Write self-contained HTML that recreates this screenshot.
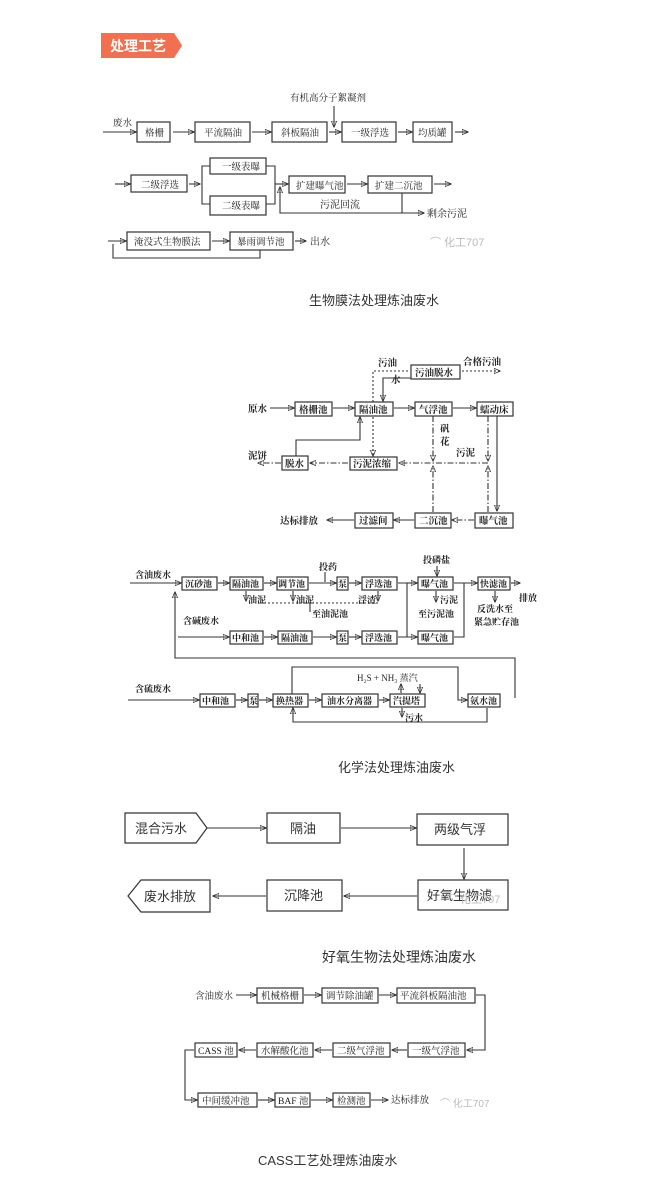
<!DOCTYPE html>
<html><head><meta charset="utf-8"><style>
html,body{margin:0;padding:0;background:#fff;}
svg{display:block;}
.s{font-family:"Liberation Serif","Noto Serif CJK SC",serif;fill:#222;}
.a{font-family:"Liberation Sans","Noto Sans CJK SC",sans-serif;fill:#333;}
rect,polygon.b{fill:#fff;stroke:#333;stroke-width:1.2;}
line,polyline,path{stroke:#333;stroke-width:1.1;fill:none;}
.d{stroke-dasharray:2 2;}
.dd{stroke-dasharray:6 2 1.5 2;}
</style></head><body>
<svg width="665" height="1200" viewBox="0 0 665 1200" xmlns="http://www.w3.org/2000/svg">
<defs>
<marker id="m" viewBox="0 0 10 10" refX="9" refY="5" markerWidth="6" markerHeight="6" orient="auto"><path d="M0,1 L10,5 L0,9 Z" fill="#222" stroke="none"/></marker>
</defs>
<!-- header -->
<polygon points="101,33 174,33 182,45.5 174,58 101,58" fill="#f26f50" stroke="none"/>
<text x="110" y="51" font-size="14" font-weight="bold" fill="#fff" font-family="'Liberation Sans','Noto Sans CJK SC',sans-serif">处理工艺</text>

<!-- Section 1 -->
<g font-size="9.5" class="s">
<text x="290" y="101" class="s">有机高分子絮凝剂</text>
<line x1="334" y1="106" x2="334" y2="127" marker-end="url(#m)"/>
<text x="113" y="126" class="s">废水</text>
<line x1="103" y1="132" x2="136" y2="132" marker-end="url(#m)"/>
<rect x="137" y="122" width="33" height="20"/><text x="145" y="136" class="s">格栅</text>
<line x1="173" y1="132" x2="194" y2="132" marker-end="url(#m)"/>
<rect x="195" y="122" width="55" height="20"/><text x="204" y="136" class="s">平流隔油</text>
<line x1="252" y1="132" x2="271" y2="132" marker-end="url(#m)"/>
<rect x="272" y="122" width="55" height="20"/><text x="281" y="136" class="s">斜板隔油</text>
<line x1="329" y1="132" x2="341" y2="132" marker-end="url(#m)"/>
<rect x="342" y="122" width="54" height="20"/><text x="351" y="136" class="s">一级浮选</text>
<line x1="398" y1="132" x2="412" y2="132" marker-end="url(#m)"/>
<rect x="413" y="122" width="39" height="20"/><text x="418" y="136" class="s">均质罐</text>
<line x1="455" y1="132" x2="468" y2="132" marker-end="url(#m)"/>

<line x1="115" y1="184" x2="130" y2="184" marker-end="url(#m)"/>
<rect x="131" y="175" width="56" height="17"/><text x="141" y="188" class="s">二级浮选</text>
<line x1="189" y1="184" x2="200" y2="184" marker-end="url(#m)"/>
<polyline points="210,166 202,166 202,204 210,204"/>
<rect x="210" y="158" width="56" height="16"/><text x="222" y="170" class="s">一级表曝</text>
<rect x="210" y="196" width="56" height="19"/><text x="222" y="209" class="s">二级表曝</text>
<polyline points="266,166 275,166 275,204 266,204"/>
<line x1="275" y1="184" x2="288" y2="184" marker-end="url(#m)"/>
<rect x="289" y="176" width="56" height="17"/><text x="296" y="189" class="s">扩建曝气池</text>
<line x1="347" y1="184" x2="367" y2="184" marker-end="url(#m)"/>
<rect x="368" y="176" width="64" height="17"/><text x="375" y="189" class="s">扩建二沉池</text>
<line x1="434" y1="184" x2="451" y2="184" marker-end="url(#m)"/>
<polyline points="402,193 402,213 280,213 280,187" marker-end="url(#m)"/>
<line x1="402" y1="213" x2="424" y2="213" marker-end="url(#m)"/>
<text x="320" y="208" class="s" font-size="10">污泥回流</text>
<text x="427" y="217" class="s" font-size="10">剩余污泥</text>

<line x1="108" y1="241" x2="126" y2="241" marker-end="url(#m)"/>
<rect x="127" y="232" width="83" height="18"/><text x="134" y="245" class="s">淹没式生物膜法</text>
<line x1="212" y1="241" x2="229" y2="241" marker-end="url(#m)"/>
<rect x="230" y="232" width="63" height="18"/><text x="237" y="245" class="s">暴雨调节池</text>
<line x1="295" y1="241" x2="306" y2="241" marker-end="url(#m)"/>
<text x="310" y="245" class="s" font-size="10">出水</text>
<polyline points="260,250 260,258 113,258 113,244"/>
<text x="430" y="246" fill="#bbb" font-size="11" font-family="'Liberation Sans','Noto Sans CJK SC',sans-serif">⌒ 化工707</text>
</g>
<text x="309" y="305" font-size="13" class="a">生物膜法处理炼油废水</text>

<!-- Section 2 -->
<g font-size="9.5" font-weight="bold" class="s">
<text x="378" y="366" class="s">污油</text>
<text x="463" y="365" class="s">合格污油</text>
<rect x="411" y="365" width="49" height="14"/><text x="415" y="376" class="s">污油脱水</text>
<line x1="462" y1="371" x2="500" y2="371" class="d" marker-end="url(#m)"/>
<polyline points="373,402 373,371 410,371" class="d"/>
<text x="391" y="383" class="s">水</text>
<polyline points="411,378 383,378 383,401" marker-end="url(#m)"/>
<text x="248" y="412" class="s">原水</text>
<line x1="270" y1="408" x2="294" y2="408" marker-end="url(#m)"/>
<rect x="295" y="402" width="37" height="14"/><text x="299" y="413" class="s">格栅池</text>
<line x1="333" y1="408" x2="354" y2="408" marker-end="url(#m)"/>
<rect x="355" y="402" width="38" height="14"/><text x="359" y="413" class="s">隔油池</text>
<line x1="394" y1="408" x2="414" y2="408" marker-end="url(#m)"/>
<rect x="415" y="402" width="37" height="14"/><text x="419" y="413" class="s">气浮池</text>
<line x1="453" y1="408" x2="476" y2="408" marker-end="url(#m)"/>
<rect x="477" y="402" width="36" height="14"/><text x="480" y="413" class="s">蠕动床</text>
<line x1="373" y1="417" x2="373" y2="456" class="d" marker-end="url(#m)"/>
<rect x="350" y="457" width="47" height="13"/><text x="353" y="467" class="s">污泥浓缩</text>
<line x1="348" y1="463" x2="310" y2="463" class="dd" marker-end="url(#m)"/>
<rect x="282" y="456" width="26" height="14"/><text x="285" y="467" class="s">脱水</text>
<line x1="281" y1="463" x2="258" y2="463" class="dd" marker-end="url(#m)"/>
<text x="248" y="459" class="s">泥饼</text>
<polyline points="296,456 296,440 360,440 360,417" marker-end="url(#m)"/>
<line x1="433" y1="416" x2="433" y2="461" class="dd" marker-end="url(#m)"/>
<text x="440" y="432" class="s">矾</text><text x="440" y="445" class="s">花</text>
<line x1="433" y1="512" x2="433" y2="466" class="dd" marker-end="url(#m)"/>
<line x1="488" y1="463" x2="399" y2="463" class="dd" marker-end="url(#m)"/>
<text x="456" y="456" class="s">污泥</text>
<line x1="488" y1="416" x2="488" y2="461" class="dd" marker-end="url(#m)"/>
<line x1="488" y1="512" x2="488" y2="466" class="dd" marker-end="url(#m)"/>
<line x1="497" y1="416" x2="497" y2="511" marker-end="url(#m)"/>
<rect x="475" y="513" width="38" height="15"/><text x="479" y="524" class="s">曝气池</text>
<line x1="474" y1="520" x2="452" y2="520" class="dd" marker-end="url(#m)"/>
<rect x="415" y="513" width="36" height="15"/><text x="419" y="524" class="s">二沉池</text>
<line x1="414" y1="520" x2="394" y2="520" marker-end="url(#m)"/>
<rect x="355" y="513" width="38" height="15"/><text x="359" y="524" class="s">过滤间</text>
<line x1="354" y1="520" x2="327" y2="520" marker-end="url(#m)"/>
<text x="280" y="524" class="s">达标排放</text>
</g>

<!-- Section 3 -->
<g font-size="9" font-weight="bold" class="s">
<text x="135" y="578" class="s">含油废水</text>
<line x1="130" y1="583" x2="181" y2="583" marker-end="url(#m)"/>
<rect x="182" y="577" width="35" height="13"/><text x="185" y="587" class="s">沉砂池</text>
<line x1="218" y1="583" x2="229" y2="583" marker-end="url(#m)"/>
<rect x="230" y="577" width="33" height="13"/><text x="232" y="587" class="s">隔油池</text>
<line x1="264" y1="583" x2="276" y2="583" marker-end="url(#m)"/>
<rect x="277" y="577" width="31" height="13"/><text x="278" y="587" class="s">调节池</text>
<line x1="309" y1="583" x2="336" y2="583" marker-end="url(#m)"/>
<text x="319" y="570" class="s">投药</text><line x1="325" y1="572" x2="325" y2="582"/>
<rect x="337" y="577" width="11" height="13"/><text x="338" y="587" class="s">泵</text>
<line x1="349" y1="583" x2="361" y2="583" marker-end="url(#m)"/>
<rect x="362" y="577" width="35" height="13"/><text x="365" y="587" class="s">浮选池</text>
<polyline points="398,583 407,583 407,637"/>
<line x1="407" y1="583" x2="417" y2="583" marker-end="url(#m)"/>
<text x="423" y="563" class="s">投磷盐</text><line x1="437" y1="566" x2="437" y2="576" marker-end="url(#m)"/>
<rect x="418" y="577" width="35" height="13"/><text x="421" y="587" class="s">曝气池</text>
<line x1="454" y1="583" x2="477" y2="583" marker-end="url(#m)"/>
<rect x="478" y="577" width="32" height="13"/><text x="480" y="587" class="s">快滤池</text>
<line x1="511" y1="583" x2="520" y2="583" marker-end="url(#m)"/>
<text x="519" y="601" class="s">排放</text>
<line x1="495" y1="591" x2="495" y2="602" marker-end="url(#m)"/>
<text x="477" y="612" class="s">反洗水至</text><text x="474" y="625" class="s">紧急贮存池</text>
<line x1="246" y1="591" x2="246" y2="601" marker-end="url(#m)"/>
<text x="248" y="603" class="s">油泥</text>
<line x1="293" y1="591" x2="293" y2="601" marker-end="url(#m)"/>
<text x="296" y="603" class="s">油泥</text>
<line x1="378" y1="591" x2="378" y2="601" marker-end="url(#m)"/>
<text x="358" y="603" class="s">浮渣</text>
<polyline points="260,603 378,603" class="d"/>
<line x1="310" y1="603" x2="310" y2="612"/>
<text x="312" y="617" class="s">至油泥池</text>
<line x1="436" y1="591" x2="436" y2="602" marker-end="url(#m)"/>
<text x="440" y="603" class="s">污泥</text>
<text x="418" y="617" class="s">至污泥池</text>
<text x="183" y="624" class="s">含碱废水</text>
<line x1="178" y1="637" x2="229" y2="637" marker-end="url(#m)"/>
<rect x="230" y="631" width="33" height="13"/><text x="232" y="641" class="s">中和池</text>
<line x1="264" y1="637" x2="277" y2="637" marker-end="url(#m)"/>
<rect x="278" y="631" width="34" height="13"/><text x="281" y="641" class="s">隔油池</text>
<line x1="313" y1="637" x2="336" y2="637" marker-end="url(#m)"/>
<rect x="337" y="631" width="11" height="13"/><text x="338" y="641" class="s">泵</text>
<line x1="349" y1="637" x2="361" y2="637" marker-end="url(#m)"/>
<rect x="362" y="631" width="35" height="13"/><text x="365" y="641" class="s">浮选池</text>
<line x1="398" y1="637" x2="417" y2="637" marker-end="url(#m)"/>
<rect x="418" y="631" width="35" height="13"/><text x="421" y="641" class="s">曝气池</text>
<polyline points="454,637 464,637 464,583"/>
<polyline points="515,698 515,658 175,658 175,592" marker-end="url(#m)"/>
<text x="135" y="692" class="s">含硫废水</text>
<line x1="128" y1="700" x2="199" y2="700" marker-end="url(#m)"/>
<rect x="200" y="694" width="35" height="13"/><text x="202" y="704" class="s">中和池</text>
<line x1="236" y1="700" x2="247" y2="700" marker-end="url(#m)"/>
<rect x="248" y="694" width="10" height="13"/><text x="249" y="704" class="s">泵</text>
<line x1="259" y1="700" x2="272" y2="700" marker-end="url(#m)"/>
<rect x="273" y="694" width="35" height="13"/><text x="276" y="704" class="s">换热器</text>
<line x1="309" y1="700" x2="321" y2="700" marker-end="url(#m)"/>
<rect x="322" y="694" width="56" height="13"/><text x="327" y="704" class="s">油水分离器</text>
<line x1="379" y1="700" x2="389" y2="700" marker-end="url(#m)"/>
<rect x="390" y="694" width="35" height="13"/><text x="393" y="704" class="s">汽提塔</text>
<text x="357" y="681" class="s" font-weight="normal">H₂S + NH₃ 蒸汽</text>
<line x1="401" y1="693" x2="401" y2="684" marker-end="url(#m)"/>
<line x1="420" y1="684" x2="420" y2="693" marker-end="url(#m)"/>
<line x1="402" y1="708" x2="402" y2="717" marker-end="url(#m)"/>
<text x="405" y="721" class="s">污水</text>
<polyline points="292,694 292,667 458,667 458,700 467,700" marker-end="url(#m)"/>
<rect x="468" y="694" width="32" height="13"/><text x="470" y="704" class="s">氨水池</text>
<polyline points="487,708 487,722 293,722 293,708" marker-end="url(#m)"/>
</g>
<text x="338" y="772" font-size="13" class="a">化学法处理炼油废水</text>

<!-- Section 4 -->
<g font-size="13" class="a">
<polygon class="b" points="125,813 196,813 207,828 196,843 125,843"/>
<text x="135" y="833" class="a">混合污水</text>
<line x1="207" y1="828" x2="266" y2="828" marker-end="url(#m)"/>
<rect x="267" y="813" width="73" height="30"/><text x="290" y="833" class="a">隔油</text>
<line x1="341" y1="828" x2="416" y2="828" marker-end="url(#m)"/>
<rect x="417" y="814" width="91" height="31"/><text x="434" y="834" class="a">两级气浮</text>
<line x1="464" y1="848" x2="464" y2="879" marker-end="url(#m)"/>
<rect x="418" y="880" width="90" height="30"/><text x="427" y="900" class="a">好氧生物滤</text>
<text x="446" y="903" fill="#bbb" font-size="11" class="a" style="fill:#bbb">⌒ 化工707</text>
<line x1="417" y1="896" x2="344" y2="896" marker-end="url(#m)"/>
<rect x="267" y="880" width="75" height="31"/><text x="284" y="900" class="a">沉降池</text>
<line x1="266" y1="896" x2="213" y2="896" marker-end="url(#m)"/>
<polygon class="b" points="141,880 210,880 210,912 141,912 128,896"/>
<text x="144" y="901" class="a">废水排放</text>
</g>
<text x="322" y="962" font-size="14" class="a">好氧生物法处理炼油废水</text>

<!-- Section 5 -->
<g font-size="9.5" class="s">
<text x="195" y="999" class="s">含油废水</text>
<line x1="236" y1="995" x2="256" y2="995" marker-end="url(#m)"/>
<rect x="257" y="988" width="46" height="15"/><text x="261" y="999" class="s">机械格栅</text>
<line x1="304" y1="995" x2="321" y2="995" marker-end="url(#m)"/>
<rect x="322" y="988" width="56" height="15"/><text x="326" y="999" class="s">调节除油罐</text>
<line x1="379" y1="995" x2="396" y2="995" marker-end="url(#m)"/>
<rect x="397" y="988" width="78" height="15"/><text x="400" y="999" class="s">平流斜板隔油池</text>
<polyline points="476,995 485,995 485,1050 467,1050" marker-end="url(#m)"/>
<rect x="408" y="1043" width="57" height="14"/><text x="412" y="1054" class="s">一级气浮池</text>
<line x1="407" y1="1050" x2="392" y2="1050" marker-end="url(#m)"/>
<rect x="333" y="1043" width="57" height="14"/><text x="337" y="1054" class="s">二级气浮池</text>
<line x1="332" y1="1050" x2="315" y2="1050" marker-end="url(#m)"/>
<rect x="257" y="1043" width="56" height="14"/><text x="261" y="1054" class="s">水解酸化池</text>
<line x1="256" y1="1050" x2="239" y2="1050" marker-end="url(#m)"/>
<rect x="195" y="1043" width="42" height="14"/><text x="198" y="1054" class="s">CASS 池</text>
<polyline points="194,1050 185,1050 185,1100 197,1100" marker-end="url(#m)"/>
<rect x="198" y="1093" width="59" height="14"/><text x="202" y="1104" class="s">中间缓冲池</text>
<line x1="258" y1="1100" x2="274" y2="1100" marker-end="url(#m)"/>
<rect x="275" y="1093" width="35" height="14"/><text x="278" y="1104" class="s">BAF 池</text>
<line x1="311" y1="1100" x2="332" y2="1100" marker-end="url(#m)"/>
<rect x="333" y="1093" width="37" height="14"/><text x="337" y="1104" class="s">检测池</text>
<line x1="371" y1="1100" x2="388" y2="1100" marker-end="url(#m)"/>
<text x="391" y="1103" class="s">达标排放</text>
<text x="440" y="1107" fill="#bbb" font-size="10" style="fill:#bbb" class="a">⌒ 化工707</text>
</g>
<text x="258" y="1165" font-size="13" class="a">CASS工艺处理炼油废水</text>
</svg>
</body></html>
